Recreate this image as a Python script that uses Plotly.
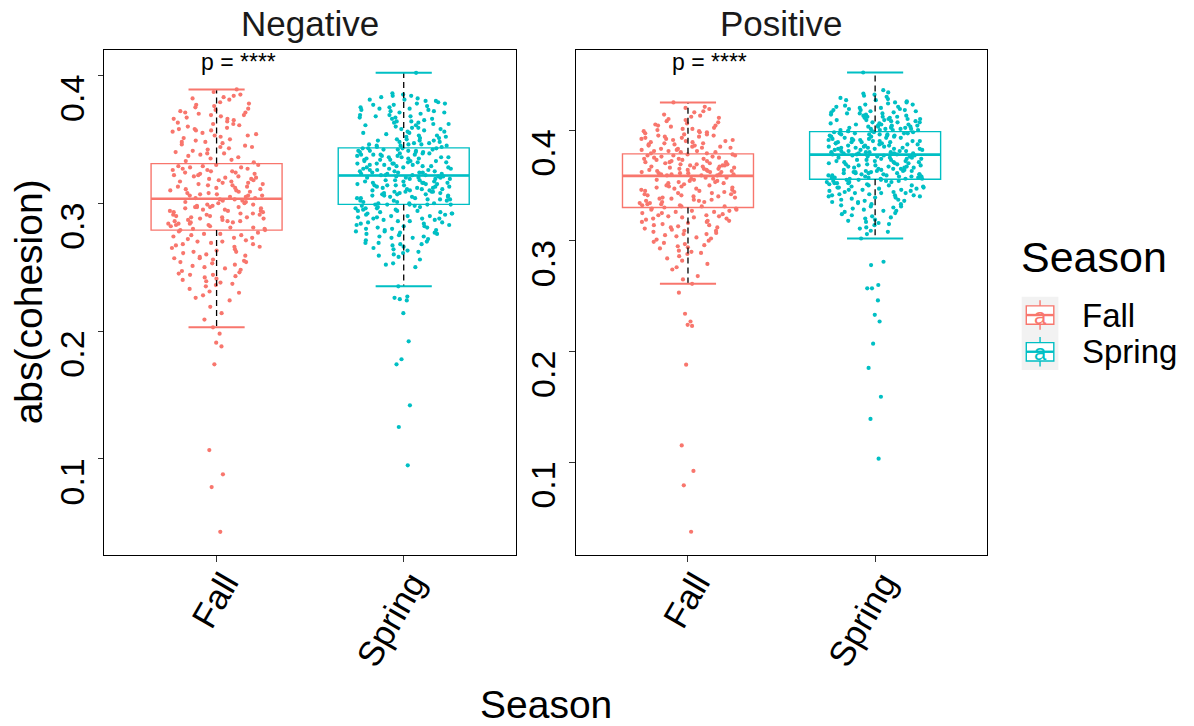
import plotly.graph_objects as go

W, H = 1194, 726
FONT = "Liberation Sans, Arial, Helvetica, sans-serif"

categories = ["Fall", "Spring"]
panels = ["Negative", "Positive"]
season_colors = ["#F8766D", "#00BFC4"]
y_tick_vals = [0.1, 0.2, 0.3, 0.4]
y_tick_text = ["0.1", "0.2", "0.3", "0.4"]
p_label = "p = ****"

neg_fall = [
    .385, .342, .367, .351, .378, .336, .359, .372, .345, .383, .356, .333, .369, .348, .362, .376, .339, .353, .381, .365,
    .344, .358, .371, .337, .349, .387, .361, .374, .341, .355, .368, .332, .379, .347, .363, .352, .370, .338, .357, .384,
    .346, .366, .334, .373, .350, .360, .343, .377, .354, .364, .340, .382, .357, .369, .335, .348, .375, .362, .344, .389,
    .353, .366, .339, .371, .358,
    .305, .318, .327, .309, .322, .313, .330, .307, .316, .324, .311, .320, .328, .304, .315, .325, .310, .319, .306, .329,
    .314, .321, .308, .326, .317, .312, .323, .305, .330, .318, .309, .327, .314, .321, .306, .324, .311, .316, .329, .308,
    .320, .313, .326, .304, .317, .322, .310, .328, .315, .307, .325, .312, .319, .323, .306,
    .301, .284, .293, .288, .297, .280, .291, .302, .286, .295, .282, .299, .289, .294, .281, .297, .285, .303, .290, .283,
    .298, .287, .292, .300, .279, .294, .288, .296, .284, .301, .291, .286, .299, .282, .293, .297, .280, .289, .302, .285,
    .295, .290, .283, .298, .287, .292, .281, .300, .294, .286, .296, .289, .303, .284, .291, .297,
    .274, .251, .266, .238, .277, .259, .245, .270, .228, .262, .279, .248, .256, .233, .272, .241, .265, .254, .276, .219,
    .260, .243, .268, .236, .275, .252, .230, .263, .247, .271, .257, .224, .267, .240, .278, .249, .261, .235, .273, .255,
    .244, .269, .226, .258, .239, .276, .253, .264, .231, .246, .270, .214, .257, .242, .266, .250, .273, .237, .262, .209,
    .268, .254, .244, .275, .203,
    .198, .191, .188, .174, .107, .088, .078, .043,
]
neg_spring = [
    .402, .385, .351, .368, .377, .346, .359, .381, .364, .349, .372, .355, .384, .344, .362, .375, .353, .369, .347, .380,
    .358, .366, .350, .379, .345, .361, .373, .356, .383, .348, .367, .376, .352, .363, .344, .371, .357, .382, .349, .365,
    .374, .346, .360, .378, .354, .369, .347, .386, .362, .351, .375, .358, .345, .366, .380, .353, .372, .348, .364, .377,
    .355, .368, .343, .370, .384, .350, .361, .374, .346, .359, .381, .352, .367, .356, .373, .349, .363, .378, .345, .371,
    .323, .335, .341, .328, .332, .338, .325, .343, .330, .336, .322, .339, .327, .333, .342, .326, .331, .337, .324, .340,
    .329, .334, .322, .338, .331, .343, .327, .335, .324, .341, .330, .336, .323, .339, .328, .333, .342, .325, .337, .332,
    .326, .340, .329, .334, .322, .338, .331, .343, .324, .336, .328, .341, .333, .325, .339, .330, .335, .323, .342, .327,
    .337, .332, .326, .340, .329, .334, .324, .338, .331, .336, .322, .341,
    .301, .314, .308, .320, .305, .317, .311, .299, .316, .303, .319, .309, .313, .300, .321, .306, .315, .310, .302, .318,
    .307, .312, .304, .320, .299, .314, .309, .316, .303, .311, .321, .306, .318, .300, .313, .308, .319, .305, .315, .310,
    .302, .317, .307, .312, .301, .320, .304, .314, .309, .316, .300, .318, .306, .311, .321, .303, .315, .308, .319, .302,
    .313, .310, .317, .305, .312, .299, .316, .307, .320, .304, .314, .309,
    .296, .281, .290, .272, .294, .263, .286, .277, .298, .268, .289, .283, .259, .292, .275, .297, .270, .285, .279, .293,
    .266, .288, .295, .274, .282, .256, .291, .278, .299, .269, .287, .284, .262, .296, .273, .290, .280, .253, .294, .276,
    .288, .267, .297, .283, .271, .292, .260, .286, .279, .298, .265, .289, .274, .295, .281, .250, .291, .277, .285, .269,
    .293, .264, .287, .282, .296, .273, .258, .290, .278, .294, .268, .284, .299, .276, .261, .292, .280, .252, .288, .235,
    .227, .226, .225, .224, .214, .192, .178, .174, .142, .125, .095,
]
pos_fall = [
    .425, .392, .381, .410, .386, .401, .395, .417, .383, .404, .389, .412, .380, .398, .421, .387, .393, .406, .382, .399,
    .414, .385, .391, .408, .379, .396, .388, .403, .419, .384, .394, .381, .400, .390, .413, .386, .397, .405, .382, .392,
    .409, .388, .395, .380, .402, .416, .384, .393, .399, .387, .411, .383, .396, .391, .404, .379, .389, .407, .385, .398,
    .394, .420, .381, .401, .390,
    .360, .371, .365, .377, .362, .368, .374, .359, .366, .372, .361, .376, .364, .369, .378, .363, .370, .360, .375, .367,
    .362, .373, .365, .359, .377, .368, .361, .371, .364, .374, .366, .360, .369, .376, .363, .372, .359, .367, .378, .362,
    .370, .365, .375, .361, .368, .373, .364, .360, .371, .366, .377, .363, .369, .374, .367,
    .345, .333, .352, .339, .356, .331, .348, .342, .335, .354, .341, .337, .350, .332, .346, .357, .340, .334, .351, .343,
    .338, .355, .331, .347, .336, .353, .344, .330, .349, .341, .357, .334, .346, .339, .352, .332, .343, .355, .337, .348,
    .333, .350, .340, .356, .335, .345, .338, .353, .331, .342, .349, .336, .354, .344, .347,
    .327, .312, .321, .299, .325, .306, .318, .290, .329, .303, .315, .284, .323, .309, .296, .320, .328, .301, .314, .279,
    .326, .307, .317, .293, .322, .311, .288, .329, .304, .319, .298, .324, .313, .282, .327, .308, .316, .295, .321, .274,
    .305, .325, .310, .291, .318, .300, .326, .286, .314, .322, .297, .309, .328, .276, .317, .302, .323, .289, .312, .268,
    .320, .294, .306, .265, .261,
    .253, .234, .227, .224, .223, .188, .115, .092, .079, .037,
]
pos_spring = [
    .452, .436, .405, .418, .401, .427, .410, .399, .422, .407, .415, .432, .403, .412, .400, .425, .409, .419, .404, .430,
    .414, .401, .421, .408, .399, .416, .428, .406, .411, .402, .423, .413, .400, .418, .434, .405, .409, .420, .403, .426,
    .415, .400, .412, .424, .407, .399, .417, .404, .429, .410, .402, .421, .414, .406, .419, .401, .431, .408, .416, .403,
    .423, .411, .400, .418, .405, .427, .413, .402, .409, .420, .404, .417, .433, .407, .412, .401, .425, .410, .403, .415,
    .379, .390, .384, .396, .381, .387, .393, .378, .398, .385, .391, .380, .394, .383, .388, .397, .382, .389, .395, .379,
    .386, .392, .381, .398, .384, .390, .378, .396, .387, .383, .393, .380, .389, .397, .385, .391, .382, .394, .379, .388,
    .395, .384, .390, .381, .398, .386, .392, .378, .396, .383, .389, .380, .393, .387, .397, .382, .391, .385, .394, .379,
    .388, .396, .384, .390, .381, .395, .386, .392, .380, .397, .383, .389,
    .357, .369, .363, .375, .360, .372, .366, .356, .370, .362, .377, .365, .359, .373, .367, .358, .376, .364, .361, .371,
    .368, .356, .374, .363, .360, .377, .366, .358, .372, .362, .369, .357, .375, .364, .361, .370, .367, .359, .376, .363,
    .373, .356, .368, .361, .374, .365, .358, .371, .360, .377, .366, .357, .369, .362, .375, .364, .359, .372, .367, .356,
    .370, .363, .376, .360, .368, .358, .373, .365, .361, .371, .357, .374,
    .352, .338, .347, .329, .354, .342, .321, .349, .335, .344, .316, .351, .331, .340, .355, .325, .346, .337, .353, .319,
    .343, .333, .350, .327, .341, .355, .312, .348, .336, .345, .323, .352, .339, .330, .354, .317, .343, .348, .334, .326,
    .351, .341, .309, .346, .336, .353, .320, .344, .332, .349, .314, .339, .355, .328, .347, .342, .318, .350, .335, .324,
    .345, .352, .311, .340, .333, .348, .322, .354, .337, .306, .343, .331, .350, .315, .346, .327, .341, .353, .308, .302,
    .281, .278, .260, .257, .257, .246, .233, .227, .207, .185, .159, .139, .103,
]

# ---- box summaries (Fall, Spring) ----
neg_q1 = [0.279, 0.2991]
neg_median = [0.3035, 0.3217]
neg_q3 = [0.331, 0.3433]
neg_lower = [0.203, 0.235]
neg_upper = [0.389, 0.402]

pos_q1 = [0.330, 0.3556]
pos_median = [0.3586, 0.3778]
pos_q3 = [0.3785, 0.3986]
pos_lower = [0.261, 0.302]
pos_upper = [0.425, 0.452]

panel_points = [[neg_fall, neg_spring], [pos_fall, pos_spring]]
panel_stats = [
    (neg_q1, neg_median, neg_q3, neg_lower, neg_upper),
    (pos_q1, pos_median, pos_q3, pos_lower, pos_upper),
]

# ---- styling ----
BOX_W = 0.70
CAP_HALF = 0.15
JIT_W = 0.52
x_ranges = [0.4, 2.6]
y_ranges = [[0.0249, 0.4201], [0.016, 0.4726]]
x_domains = [[104.3 / W, 516.0 / W], [575.7 / W, 987.4 / W]]
y_domain = [1 - 555.0 / H, 1 - 49.7 / H]

fig = go.Figure()

for p, pname in enumerate(panels):
    xa = "x" if p == 0 else "x2"
    ya = "y" if p == 0 else "y2"
    q1s, meds, q3s, los, his = panel_stats[p]
    for i, cat in enumerate(categories):
        pos = i + 1
        col = season_colors[i]
        # box body (no whiskers)
        fig.add_trace(go.Box(
            x=[pos], q1=[q1s[i]], median=[meds[i]], q3=[q3s[i]],
            lowerfence=[q1s[i]], upperfence=[q3s[i]],
            orientation="v", width=BOX_W, whiskerwidth=0,
            line=dict(color=col, width=1.4), fillcolor="white",
            boxpoints=False, showlegend=False, hoverinfo="skip",
            xaxis=xa, yaxis=ya))
        # thicker median line
        fig.add_trace(go.Box(
            x=[pos], q1=[meds[i]], median=[meds[i]], q3=[meds[i]],
            lowerfence=[meds[i]], upperfence=[meds[i]],
            orientation="v", width=BOX_W, whiskerwidth=0,
            line=dict(color=col, width=2.6), fillcolor="rgba(0,0,0,0)",
            boxpoints=False, showlegend=False, hoverinfo="skip",
            xaxis=xa, yaxis=ya))
        # jittered points (library jitter)
        vals = panel_points[p][i]
        fig.add_trace(go.Box(
            x=[pos] * len(vals), y=vals,
            orientation="v", width=JIT_W, boxpoints="all", jitter=1, pointpos=0,
            line=dict(color="rgba(0,0,0,0)", width=0), fillcolor="rgba(0,0,0,0)",
            marker=dict(color=col, size=4.2, line=dict(width=0)),
            showlegend=False, hoverinfo="y",
            xaxis=xa, yaxis=ya))
        # dashed whiskers
        fig.add_trace(go.Scatter(
            x=[pos, pos, None, pos, pos],
            y=[q3s[i], his[i], None, q1s[i], los[i]],
            mode="lines", line=dict(color="black", width=1.3, dash="6px,4px"),
            showlegend=False, hoverinfo="skip", xaxis=xa, yaxis=ya))
        # caps
        fig.add_trace(go.Scatter(
            x=[pos - CAP_HALF, pos + CAP_HALF, None, pos - CAP_HALF, pos + CAP_HALF],
            y=[his[i], his[i], None, los[i], los[i]],
            mode="lines", line=dict(color=col, width=2),
            showlegend=False, hoverinfo="skip", xaxis=xa, yaxis=ya))

axis_common = dict(
    showgrid=False, zeroline=False, showline=True, mirror=True,
    linecolor="black", linewidth=1.3, ticks="outside", ticklen=5.5,
    tickwidth=1.3, tickcolor="#333333", automargin=False,
)

layout = dict(
    width=W, height=H, margin=dict(l=0, r=0, t=0, b=0),
    paper_bgcolor="white", plot_bgcolor="white",
    boxmode="overlay", showlegend=False,
    font=dict(family=FONT, color="black"),
)
for p in range(2):
    sx = "" if p == 0 else "2"
    layout["xaxis" + sx] = dict(
        axis_common, domain=x_domains[p], range=x_ranges,
        tickvals=[1, 2], ticktext=categories, tickangle=-60,
        tickfont=dict(family=FONT, size=35, color="black"),
        ticklabelstandoff=-13, ticklabelshift=8, anchor="y" + sx)
    layout["yaxis" + sx] = dict(
        axis_common, domain=y_domain, range=y_ranges[p],
        tickvals=y_tick_vals, ticktext=y_tick_text, tickangle=-90,
        tickfont=dict(family=FONT, size=34, color="black"),
        ticklabelshift=28, anchor="x" + sx)
fig.update_layout(**layout)

ann = []
# strip titles
for p, pname in enumerate(panels):
    ann.append(dict(text=pname, xref="paper", yref="paper",
                    x=sum(x_domains[p]) / 2, y=1 - 23 / H,
                    xanchor="center", yanchor="middle", showarrow=False,
                    font=dict(family=FONT, size=35, color="#1a1a1a")))
# p-value labels
p_label_y = [0.4105, 0.4615]
for p in range(2):
    sx = "" if p == 0 else "2"
    ann.append(dict(text=p_label, xref="x" + sx, yref="y" + sx,
                    x=1.117, y=p_label_y[p], xanchor="center", yanchor="middle",
                    showarrow=False, font=dict(family=FONT, size=23, color="black")))
# axis titles
ann.append(dict(text="abs(cohesion)", xref="paper", yref="paper",
                x=28 / W, y=sum(y_domain) / 2, textangle=-90,
                xanchor="center", yanchor="middle", showarrow=False,
                font=dict(family=FONT, size=39, color="black")))
ann.append(dict(text="Season", xref="paper", yref="paper",
                x=(x_domains[0][0] + x_domains[1][1]) / 2, y=1 - 704 / H,
                xanchor="center", yanchor="middle", showarrow=False,
                font=dict(family=FONT, size=39, color="black")))

# ---- legend (drawn by hand to mimic ggplot keys) ----
shapes = []
def px(x):
    return x / W
def py(y):
    return 1 - y / H

KEY = 36.7
KX0 = 1021.7
KY0 = 296.7
ann.append(dict(text="Season", xref="paper", yref="paper",
                x=px(1019), y=py(257), xanchor="left", yanchor="middle",
                showarrow=False, font=dict(family=FONT, size=43, color="black")))
shapes.append(dict(type="rect", xref="paper", yref="paper",
                   x0=px(KX0), x1=px(KX0 + KEY), y0=py(KY0), y1=py(KY0 + 2 * KEY),
                   fillcolor="#F2F2F2", line=dict(width=0), layer="below"))
for i, cat in enumerate(categories):
    col = season_colors[i]
    cx = KX0 + KEY / 2
    cy = KY0 + KEY * (i + 0.5)
    for a, b in [(0.1, 0.25), (0.75, 0.9)]:
        shapes.append(dict(type="line", xref="paper", yref="paper",
                           x0=px(cx), x1=px(cx),
                           y0=py(KY0 + KEY * i + KEY * a), y1=py(KY0 + KEY * i + KEY * b),
                           line=dict(color=col, width=1.4)))
    shapes.append(dict(type="rect", xref="paper", yref="paper",
                       x0=px(cx - 0.375 * KEY), x1=px(cx + 0.375 * KEY),
                       y0=py(cy - 0.25 * KEY), y1=py(cy + 0.25 * KEY),
                       fillcolor="white", line=dict(color=col, width=1.4)))
    shapes.append(dict(type="line", xref="paper", yref="paper",
                       x0=px(cx - 0.375 * KEY), x1=px(cx + 0.375 * KEY),
                       y0=py(cy), y1=py(cy), line=dict(color=col, width=2.4)))
    ann.append(dict(text="a", xref="paper", yref="paper", x=px(cx), y=py(cy + 1),
                    xanchor="center", yanchor="middle", showarrow=False,
                    font=dict(family=FONT, size=22, color=col)))
    ann.append(dict(text=cat, xref="paper", yref="paper", x=px(1080), y=py(cy),
                    xanchor="left", yanchor="middle", showarrow=False,
                    font=dict(family=FONT, size=33, color="black")))

fig.update_layout(annotations=ann, shapes=shapes)
fig.write_html("out.html", config={"displayModeBar": False},
               post_script="document.body.style.margin='0';document.body.style.overflow='hidden';")
